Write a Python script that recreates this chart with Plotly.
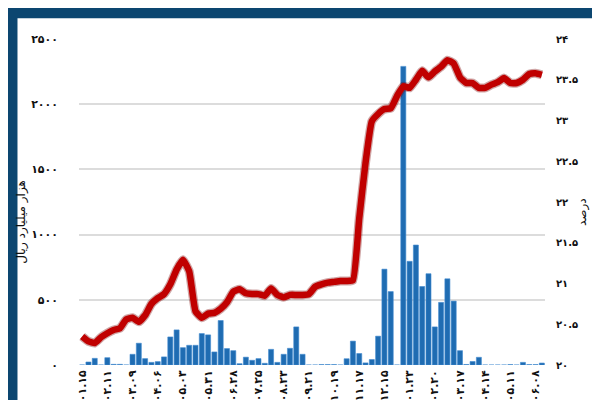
import plotly.graph_objects as go

# هفته‌ها (هر چهار هفته یک برچسب)
weeks = list(range(74))
tick_weeks = list(range(0, 74, 4))
tick_dates = ["۱۴۰۱.۰۱.۱۵", "۱۴۰۱.۰۲.۱۱", "۱۴۰۱.۰۳.۰۹", "۱۴۰۱.۰۴.۰۶", "۱۴۰۱.۰۵.۰۳",
              "۱۴۰۱.۰۵.۳۱", "۱۴۰۱.۰۶.۲۸", "۱۴۰۱.۰۷.۲۵", "۱۴۰۱.۰۸.۲۳", "۱۴۰۱.۰۹.۲۱",
              "۱۴۰۱.۱۰.۱۹", "۱۴۰۱.۱۱.۱۷", "۱۴۰۱.۱۲.۱۵", "۱۴۰۲.۰۱.۲۳", "۱۴۰۲.۰۲.۲۰",
              "۱۴۰۲.۰۳.۱۷", "۱۴۰۲.۰۴.۱۴", "۱۴۰۲.۰۵.۱۱", "۱۴۰۲.۰۶.۰۸"]

# حجم (هزار میلیارد ریال)
volume = [0, 23, 51, 0, 56, 5, 5, 0, 82, 167,
          49, 20, 26, 62, 215, 269, 133, 151, 151, 241,
          231, 100, 341, 126, 110, 10, 60, 36, 49, 13,
          120, 20, 82, 128, 292, 82, 0, 0, 3, 3,
          3, 0, 48, 183, 88, 16, 42, 221, 735, 563,
          0, 2290, 795, 920, 602, 700, 292, 480, 661, 490,
          110, 4, 27, 59, 0, 0, 0, 0, 3, 0,
          20, 3, 3, 15]

# نرخ (درصد)
rate = [20.35, 20.29, 20.27, 20.34, 20.39, 20.43, 20.45, 20.56, 20.58, 20.53,
        20.61, 20.75, 20.82, 20.87, 20.99, 21.17, 21.29, 21.15, 20.66, 20.58,
        20.63, 20.64, 20.69, 20.77, 20.90, 20.93, 20.88, 20.87, 20.87, 20.85,
        20.94, 20.86, 20.83, 20.86, 20.86, 20.86, 20.87, 20.96, 20.99, 21.01,
        21.02, 21.03, 21.03, 21.04, 21.80, 22.48, 22.99, 23.08, 23.14, 23.15,
        23.30, 23.42, 23.40, 23.50, 23.61, 23.53, 23.60, 23.66, 23.74, 23.70,
        23.53, 23.46, 23.46, 23.40, 23.40, 23.44, 23.47, 23.52, 23.46, 23.46,
        23.50, 23.57, 23.58, 23.56]

left_vals = [0, 500, 1000, 1500, 2000, 2500]
left_text = ["۰", "۵۰۰", "۱۰۰۰", "۱۵۰۰", "۲۰۰۰", "۲۵۰۰"]
right_vals = [20, 20.5, 21, 21.5, 22, 22.5, 23, 23.5, 24]
right_text = ["۲۰", "۲۰.۵", "۲۱", "۲۱.۵", "۲۲", "۲۲.۵", "۲۳", "۲۳.۵", "۲۴"]

FONT = "DejaVu Sans"

fig = go.Figure()
fig.add_trace(go.Bar(x=weeks, y=volume, marker_color="#1f6cb2",
                     marker_line_color="#3f8ad0", marker_line_width=0.6,
                     name="حجم"))
fig.add_trace(go.Scatter(x=weeks, y=rate, yaxis="y2", mode="lines",
                         line=dict(color="rgba(120,0,0,0.35)", width=9,
                                   shape="spline", smoothing=0.4),
                         hoverinfo="skip", showlegend=False))
fig.add_trace(go.Scatter(x=weeks, y=rate, yaxis="y2", mode="lines",
                         line=dict(color="#c00000", width=6.5, shape="spline", smoothing=0.4),
                         name="نرخ"))

# قاب سفید روی زمینه‌ی سرمه‌ای
fig.add_shape(type="rect", xref="paper", yref="paper", x0=-0.132, x1=1.116,
              y0=-0.6, y1=1.064, fillcolor="white", line_width=0, layer="below")

fig.add_annotation(text="هزار میلیارد ریال", xref="paper", yref="paper",
                   x=-0.124, y=0.44, xanchor="center", yanchor="middle",
                   textangle=-90, showarrow=False,
                   font=dict(family=FONT, size=12, color="#111"))
fig.add_annotation(text="درصد", xref="paper", yref="paper",
                   x=1.08, y=0.47, xanchor="center", yanchor="middle",
                   textangle=-90, showarrow=False,
                   font=dict(family=FONT, size=12, color="#111"))

fig.update_layout(
    width=600, height=400,
    margin=dict(l=71, r=63, t=31, b=43),
    paper_bgcolor="#0c4670", plot_bgcolor="white",
    font=dict(family=FONT, size=12, color="#111"),
    showlegend=False, bargap=0.2,
    xaxis=dict(range=[-0.5, 73.5], tickvals=tick_weeks, ticktext=tick_dates,
               tickangle=-90, showgrid=False, zeroline=False, ticks="", ticklen=0,
               ticklabelstandoff=2, automargin=False,
               tickfont=dict(family=FONT, size=11, color="#111", weight="bold")),
    yaxis=dict(range=[0, 2500], tickvals=left_vals, ticktext=left_text,
               showgrid=True, gridcolor="#dcdcdc", gridwidth=2,
               zeroline=True, zerolinecolor="white", ticks="", ticklen=0,
               ticklabelstandoff=20, automargin=False,
               tickfont=dict(family=FONT, size=11, color="#111", weight="bold")),
    yaxis2=dict(range=[20, 24], tickvals=right_vals, ticktext=right_text,
                overlaying="y", side="right", showgrid=False, zeroline=False,
                ticks="", ticklen=0, ticklabelstandoff=10, automargin=False,
                tickfont=dict(family=FONT, size=10, color="#111", weight="bold")),
)

fig.write_html("out.html")
